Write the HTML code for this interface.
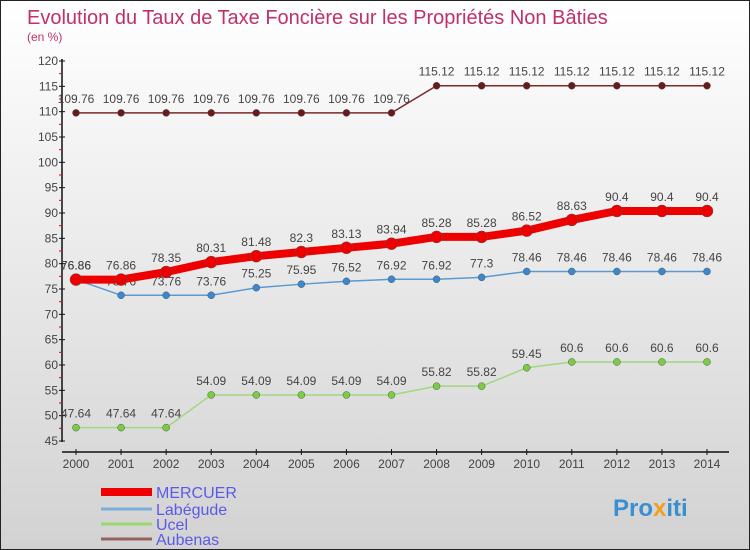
<!DOCTYPE html>
<html><head><meta charset="utf-8"><style>
body{margin:0}
#c{width:750px;height:550px;position:relative;background:linear-gradient(#ffffff,#d2d2d2);border:1px solid #222;box-sizing:border-box;overflow:hidden;font-family:"Liberation Sans",sans-serif}
</style></head><body>
<div id="c">
<svg id="s" width="750" height="550" style="position:absolute;left:0;top:0">
<text x="26" y="23" font-size="20" fill="#c0306a">Evolution du Taux de Taxe Foncière sur les Propriétés Non Bâties</text>
<text x="26" y="40" font-size="12" fill="#c0306a">(en %)</text>
<g id="axes"></g><g id="series"></g>
<text x="612" y="515" font-size="24" font-weight="bold" fill="#3a8fd0">Pro<tspan fill="#f0a020">x</tspan>iti</text>
</svg>
</div>
<script>
const years=["2000","2001","2002","2003","2004","2005","2006","2007","2008","2009","2010","2011","2012","2013","2014"];
const yTicks=[45,50,55,60,65,70,75,80,85,90,95,100,105,110,115,120];
const mercuer=[76.86,76.86,78.35,80.31,81.48,82.3,83.13,83.94,85.28,85.28,86.52,88.63,90.4,90.4,90.4];
const labegude=[76.86,73.76,73.76,73.76,75.25,75.95,76.52,76.92,76.92,77.3,78.46,78.46,78.46,78.46,78.46];
const ucel=[47.64,47.64,47.64,54.09,54.09,54.09,54.09,54.09,55.82,55.82,59.45,60.6,60.6,60.6,60.6];
const aubenas=[109.76,109.76,109.76,109.76,109.76,109.76,109.76,109.76,115.12,115.12,115.12,115.12,115.12,115.12,115.12];
const NS="http://www.w3.org/2000/svg";
const X=i=>75+i*(631/14);
const Y=v=>60+(120-v)*(380/75);
function mk(t,a,p){const e=document.createElementNS(NS,t);for(const k in a)e.setAttribute(k,a[k]);p.appendChild(e);return e;}
const ax=document.getElementById('axes'),sr=document.getElementById('series');
let e=mk('line',{x1:61,y1:58,x2:61,y2:441,stroke:'#111','stroke-width':1.5},ax);

e=mk('line',{x1:61,y1:451,x2:728,y2:451,stroke:'#111','stroke-width':1.5},ax);

yTicks.forEach(v=>{
 mk('line',{x1:58,y1:Y(v),x2:64,y2:Y(v),stroke:'#111'},ax);
 if(v<120)mk('line',{x1:58,y1:Y(v+2.5),x2:61,y2:Y(v+2.5),stroke:'#e00'},ax);
 const t=mk('text',{x:57,y:Y(v)+4,'font-size':12,fill:'#444','text-anchor':'end'},ax);t.textContent=v;
 
});
years.forEach((y,i)=>{
 mk('line',{x1:X(i),y1:448,x2:X(i),y2:454,stroke:'#111'},ax);
 const t=mk('text',{x:X(i),y:467,'font-size':12,fill:'#444','text-anchor':'middle'},ax);t.textContent=y;
 
});
function series(d,col,dot,w,r,name,lblOff){
 const g=mk('g',{},sr);
 const l=mk('polyline',{points:d.map((v,i)=>X(i)+','+Y(v)).join(' '),fill:'none',stroke:col,'stroke-width':w},g);
 
 d.forEach((v,i)=>{
  const c=mk('circle',{cx:X(i),cy:Y(v),r:r,fill:dot,stroke:'#555','stroke-width':0.5},g);
  
  const t=mk('text',{x:X(i),y:Y(v)+lblOff,'font-size':12,fill:'#444','text-anchor':'middle'},g);t.textContent=v;
  
 });
}
series(aubenas,'#7a2a2a','#6a1a1a',1.5,3.5,'aubenas',-10);
series(ucel,'#a0d880','#7acc40',1.5,3.5,'ucel',-10);
series(labegude,'#5a9ad0','#3a88d0',1.5,3.5,'labegude',-10);
series(mercuer,'#e00','#e00',8,6,'mercuer',-10);
const legend=[["MERCUER","#e00",8],["Labégude","#7aaed8",3],["Ucel","#9ad870",3],["Aubenas","#946060",3]];
const lg=mk('g',{},document.getElementById('s'));
legend.forEach((L,i)=>{
 const y=[491,508,523,538][i];
 const l=mk('line',{x1:100,y1:y,x2:151,y2:y,stroke:L[1],'stroke-width':L[2]},lg);
 
 const t=mk('text',{x:155,y:y+6,'font-size':16,fill:'#5a5ae8'},lg);t.textContent=L[0];
 
});
</script>
</body></html>
